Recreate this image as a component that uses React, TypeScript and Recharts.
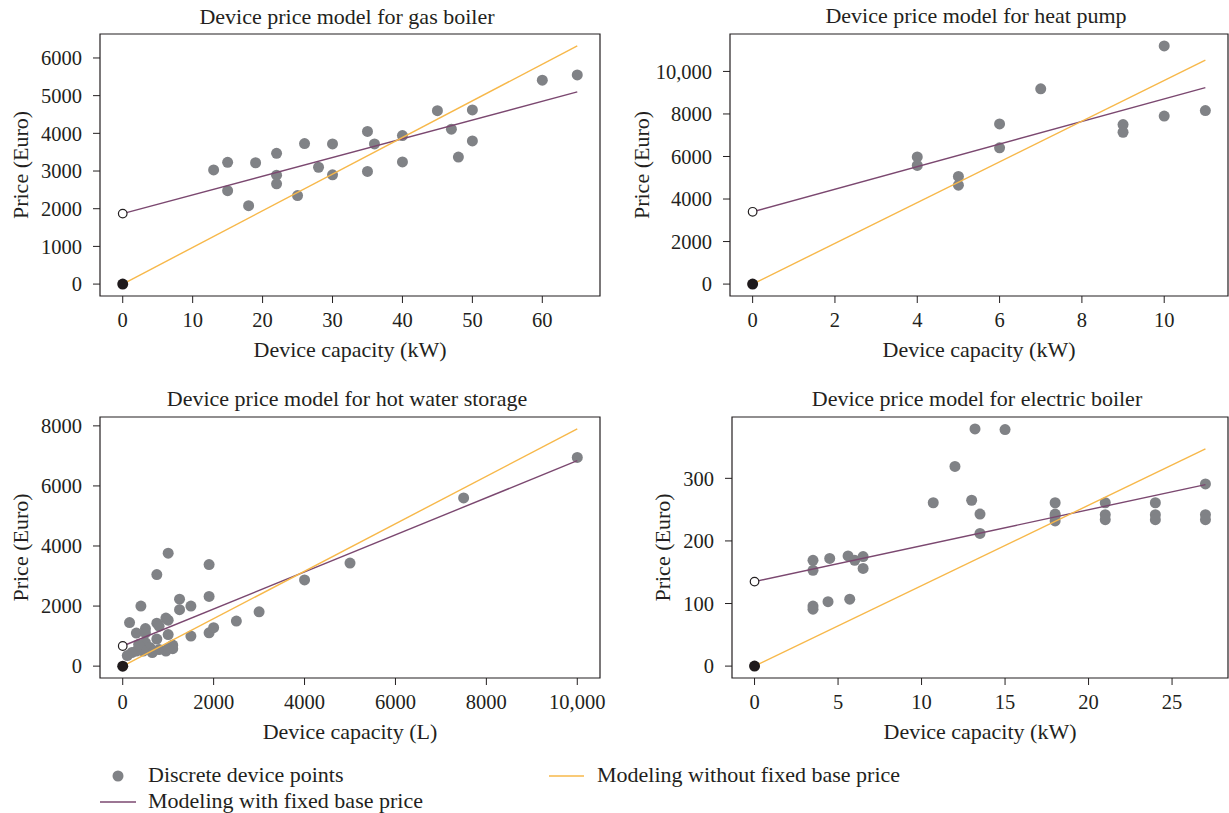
import React from 'react';
import { ScatterChart, Scatter, XAxis, YAxis, ReferenceArea } from 'recharts';

// Shared look
const FONT = "'Liberation Serif', 'Times New Roman', serif";
const INK = '#231f20';
const DOT = '#808286';
const PURPLE = '#7b4870';
const YELLOW = '#f7b84a';

// Gas boiler
const gasCapacity = [13, 15, 15, 18, 19, 22, 22, 22, 25, 26, 28, 30, 30, 35, 35, 36, 40, 40, 45, 47, 48, 50, 50, 60, 65];
const gasPrice = [3030, 3230, 2480, 2080, 3220, 3470, 2890, 2660, 2350, 3730, 3100, 3720, 2900, 4050, 2990, 3720, 3940, 3240, 4600, 4110, 3370, 4620, 3800, 5410, 5550];
const gasLineCapacity = [0, 65];
const gasFixedBase = [1870, 5100];
const gasNoBase = [0, 6320];
const gasXTicks = [0, 10, 20, 30, 40, 50, 60];
const gasYTicks = [0, 1000, 2000, 3000, 4000, 5000, 6000];

// Heat pump
const hpCapacity = [4, 4, 5, 5, 6, 6, 7, 9, 9, 10, 10, 11];
const hpPrice = [5980, 5580, 5060, 4650, 7530, 6410, 9180, 7500, 7140, 11200, 7900, 8160];
const hpLineCapacity = [0, 11];
const hpFixedBase = [3400, 9240];
const hpNoBase = [0, 10530];
const hpXTicks = [0, 2, 4, 6, 8, 10];
const hpYTicks = [0, 2000, 4000, 6000, 8000, 10000];

// Hot water storage
const hwCapacity = [10000, 7500, 5000, 4000, 3000, 2500, 1900, 1900, 1900, 2000, 1000, 750, 400, 150, 1250, 1250, 1500, 1500, 950, 1000, 750, 800, 500, 300, 1000, 750, 500, 1100, 1100, 800, 600, 450, 300, 200, 100, 650, 950, 350, 500, 1000];
const hwPrice = [6950, 5600, 3430, 2870, 1810, 1500, 3380, 2320, 1110, 1280, 3760, 3050, 2000, 1450, 2230, 1880, 2000, 1000, 1600, 1530, 1430, 1330, 1250, 1100, 1050, 900, 780, 700, 580, 550, 620, 500, 500, 450, 350, 450, 500, 720, 1100, 600];
const hwLineCapacity = [0, 10000];
const hwFixedBase = [670, 6840];
const hwNoBase = [0, 7900];
const hwXTicks = [0, 2000, 4000, 6000, 8000, 10000];
const hwYTicks = [0, 2000, 4000, 6000, 8000];

// Electric boiler
const elCapacity = [3.5, 3.5, 3.5, 3.5, 4.5, 4.4, 5.6, 5.7, 6.0, 6.5, 6.5, 10.7, 12, 13, 13.2, 13.5, 13.5, 15, 18, 18, 18, 18, 21, 21, 21, 24, 24, 24, 27, 27, 27];
const elPrice = [169, 153, 96, 91, 172, 103, 176, 107, 169, 175, 156, 261, 319, 265, 379, 243, 212, 378, 261, 243, 240, 232, 261, 242, 234, 261, 242, 234, 291, 242, 234];
const elLineCapacity = [0, 27];
const elFixedBase = [135, 290];
const elNoBase = [0, 347];
const elXTicks = [0, 5, 10, 15, 20, 25];
const elYTicks = [0, 100, 200, 300];

const toPoints = (xs: number[], ys: number[]) => xs.map((x, i) => ({ x, y: ys[i] }));
const fmt = (v: number) => (v >= 10000 ? v.toLocaleString('en-US') : String(v));

const DotShape = (p: any) => <circle cx={p.cx} cy={p.cy} r={5.5} fill={DOT} />;
const NoShape = () => <g />;
const BlackDot = (p: any) => <circle cx={p.cx} cy={p.cy} r={5.5} fill="#1f1a1c" />;
const OpenCircle = (p: any) => <circle cx={p.cx} cy={p.cy} r={4.3} fill="#fff" stroke={INK} strokeWidth={1.2} />;

interface Rect { left: number; top: number; width: number; height: number; }

interface PanelProps {
  capacity: number[];
  price: number[];
  lineCapacity: number[];
  fixedBase: number[];
  noBase: number[];
  xDomain: [number, number];
  yDomain: [number, number];
  xTicks: number[];
  yTicks: number[];
  xLabel: string;
  plot: Rect;
  yLabelOffset: number;
}

const Panel: React.FC<PanelProps> = (p) => {
  const { plot } = p;
  return (
    <div style={{ position: 'absolute', left: plot.left - 100, top: plot.top - 40 }}>
      <ScatterChart
        width={plot.width + 110}
        height={plot.height + 110}
        margin={{ top: 40, right: 10, bottom: 0, left: 0 }}
      >
        <XAxis
          type="number"
          dataKey="x"
          domain={p.xDomain}
          ticks={p.xTicks}
          interval={0}
          allowDataOverflow
          axisLine={false}
          tickLine={{ stroke: INK }}
          tickSize={7}
          tickMargin={9}
          height={70}
          tick={{ fill: INK, fontSize: 20.5, fontFamily: FONT }}
          tickFormatter={fmt}
          label={{ value: p.xLabel, position: 'insideBottom', offset: 9, fill: INK, fontSize: 22, fontFamily: FONT }}
        />
        <YAxis
          type="number"
          dataKey="y"
          domain={p.yDomain}
          ticks={p.yTicks}
          interval={0}
          allowDataOverflow
          axisLine={false}
          tickLine={{ stroke: INK }}
          tickSize={7}
          tickMargin={11}
          width={100}
          tick={{ fill: INK, fontSize: 20.5, fontFamily: FONT }}
          tickFormatter={fmt}
          label={{
            value: 'Price (Euro)',
            angle: -90,
            position: 'insideLeft',
            offset: p.yLabelOffset,
            fill: INK,
            fontSize: 22,
            fontFamily: FONT,
            style: { textAnchor: 'middle' },
          }}
        />
        <ReferenceArea
          x1={p.xDomain[0]}
          x2={p.xDomain[1]}
          y1={p.yDomain[0]}
          y2={p.yDomain[1]}
          fill="none"
          stroke={INK}
          strokeWidth={1.2}
          ifOverflow="visible"
        />
        <Scatter data={toPoints(p.capacity, p.price)} shape={DotShape} isAnimationActive={false} />
        <Scatter
          data={toPoints(p.lineCapacity, p.fixedBase)}
          line={{ stroke: PURPLE, strokeWidth: 1.4 }}
          shape={NoShape}
          isAnimationActive={false}
        />
        <Scatter
          data={toPoints(p.lineCapacity, p.noBase)}
          line={{ stroke: YELLOW, strokeWidth: 1.4 }}
          shape={NoShape}
          isAnimationActive={false}
        />
        <Scatter data={[{ x: 0, y: p.noBase[0] }]} shape={BlackDot} isAnimationActive={false} />
        <Scatter data={[{ x: 0, y: p.fixedBase[0] }]} shape={OpenCircle} isAnimationActive={false} />
      </ScatterChart>
    </div>
  );
};

const plots: Record<string, Rect> = {
  gas: { left: 100, top: 34, width: 500, height: 262 },
  hp: { left: 730, top: 34, width: 498, height: 262 },
  hw: { left: 100, top: 417, width: 500, height: 261 },
  el: { left: 732, top: 417, width: 496, height: 261 },
};

const titles = [
  { text: 'Device price model for gas boiler', plot: plots.gas, y: 24 },
  { text: 'Device price model for heat pump', plot: plots.hp, y: 23 },
  { text: 'Device price model for hot water storage', plot: plots.hw, y: 406 },
  { text: 'Device price model for electric boiler', plot: plots.el, y: 406 },
];

const App: React.FC = () => (
  <div style={{ position: 'absolute', left: 0, top: 0, width: 1229, height: 813, overflow: 'hidden', background: '#fff' }}>
    <Panel
      capacity={gasCapacity}
      price={gasPrice}
      lineCapacity={gasLineCapacity}
      fixedBase={gasFixedBase}
      noBase={gasNoBase}
      xDomain={[-3.25, 68.25]}
      yDomain={[-316, 6636]}
      xTicks={gasXTicks}
      yTicks={gasYTicks}
      xLabel="Device capacity (kW)"
      plot={plots.gas}
      yLabelOffset={20}
    />
    <Panel
      capacity={hpCapacity}
      price={hpPrice}
      lineCapacity={hpLineCapacity}
      fixedBase={hpFixedBase}
      noBase={hpNoBase}
      xDomain={[-0.55, 11.55]}
      yDomain={[-560, 11760]}
      xTicks={hpXTicks}
      yTicks={hpYTicks}
      xLabel="Device capacity (kW)"
      plot={plots.hp}
      yLabelOffset={11}
    />
    <Panel
      capacity={hwCapacity}
      price={hwPrice}
      lineCapacity={hwLineCapacity}
      fixedBase={hwFixedBase}
      noBase={hwNoBase}
      xDomain={[-500, 10500]}
      yDomain={[-395, 8295]}
      xTicks={hwXTicks}
      yTicks={hwYTicks}
      xLabel="Device capacity (L)"
      plot={plots.hw}
      yLabelOffset={20}
    />
    <Panel
      capacity={elCapacity}
      price={elPrice}
      lineCapacity={elLineCapacity}
      fixedBase={elFixedBase}
      noBase={elNoBase}
      xDomain={[-1.35, 28.35]}
      yDomain={[-19, 398]}
      xTicks={elXTicks}
      yTicks={elYTicks}
      xLabel="Device capacity (kW)"
      plot={plots.el}
      yLabelOffset={30}
    />
    <svg
      width={1229}
      height={813}
      style={{ position: 'absolute', left: 0, top: 0, pointerEvents: 'none' }}
      fontFamily={FONT}
      fill={INK}
    >
      {titles.map((t) => (
        <text key={t.text} x={t.plot.left + t.plot.width / 2 - 3} y={t.y} textAnchor="middle" fontSize={22}>
          {t.text}
        </text>
      ))}
      {/* legend */}
      <circle cx={118} cy={776} r={5.5} fill={DOT} />
      <text x={148} y={782} fontSize={22}>Discrete device points</text>
      <line x1={100} x2={136} y1={802} y2={802} stroke={PURPLE} strokeWidth={1.5} />
      <text x={148} y={808} fontSize={22}>Modeling with fixed base price</text>
      <line x1={549} x2={584} y1={776} y2={776} stroke={YELLOW} strokeWidth={1.5} />
      <text x={597} y={782} fontSize={22}>Modeling without fixed base price</text>
    </svg>
  </div>
);

export default App;
